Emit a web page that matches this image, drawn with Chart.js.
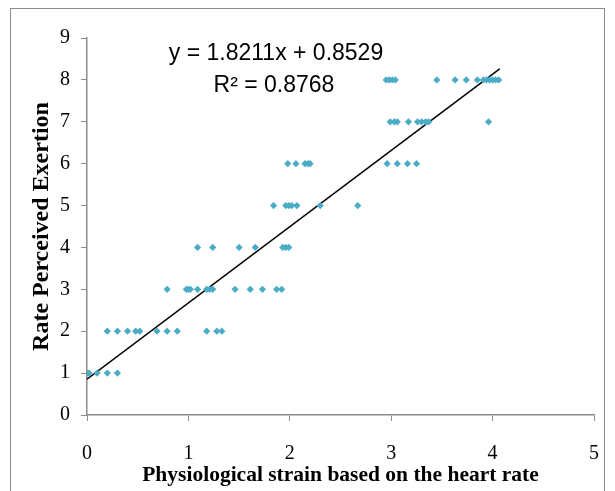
<!DOCTYPE html>
<html>
<head>
<meta charset="utf-8">
<script src="https://cdn.jsdelivr.net/npm/chart.js@4.4.1/dist/chart.umd.min.js"></script>
<style>
  html, body { margin: 0; padding: 0; background: #fff; }
  #wrap { position: relative; width: 615px; height: 491px; overflow: hidden; }
  #frame { position: absolute; left: 10px; top: 8px; width: 595px; height: 500px; border: 1.5px solid #8c8c8c; box-sizing: border-box; }
  #chart { position: absolute; left: 0; top: 0; }
</style>
</head>
<body>
<div id="wrap">
  <div id="frame"></div>
  <canvas id="chart" width="615" height="491"></canvas>
</div>
<script>
// strain (x) and RPE (y)
const strain = [
  0, 0.02, 0.1, 0.2, 0.3,
  0.2, 0.3, 0.4, 0.48, 0.52, 0.69, 0.79, 0.89, 1.18, 1.28, 1.33,
  0.79, 0.98, 1.0, 1.02, 1.09, 1.18, 1.21, 1.24, 1.46, 1.61, 1.73, 1.87, 1.92,
  1.09, 1.24, 1.5, 1.66, 1.93, 1.96, 1.99,
  1.84, 1.96, 1.99, 2.02, 2.07, 2.3, 2.67,
  1.98, 2.06, 2.15, 2.18, 2.2, 2.96, 3.06, 3.16, 3.25,
  2.99, 3.03, 3.06, 3.17, 3.26, 3.3, 3.34, 3.37, 3.96,
  2.95, 2.98, 3.01, 3.04, 3.45, 3.63, 3.74, 3.85, 3.91, 3.94, 3.97, 4.0, 4.03, 4.06
];
const rpe = [
  1, 1, 1, 1, 1,
  2, 2, 2, 2, 2, 2, 2, 2, 2, 2, 2,
  3, 3, 3, 3, 3, 3, 3, 3, 3, 3, 3, 3, 3,
  4, 4, 4, 4, 4, 4, 4,
  5, 5, 5, 5, 5, 5, 5,
  6, 6, 6, 6, 6, 6, 6, 6, 6,
  7, 7, 7, 7, 7, 7, 7, 7, 7,
  8, 8, 8, 8, 8, 8, 8, 8, 8, 8, 8, 8, 8, 8
];
const xTicks = [0, 1, 2, 3, 4, 5];
const yTicks = [0, 1, 2, 3, 4, 5, 6, 7, 8, 9];

// linear trendline from the printed equation
const slope = 1.8211;
const intercept = 0.8529;
const trendX = [0, 4.07];

const points = strain.map((x, i) => ({ x: x, y: rpe[i] }));
const trend = trendX.map(x => ({ x: x, y: slope * x + intercept }));

const axisGray = '#8c8c8c';
const serif = '"Liberation Serif", "Times New Roman", serif';

const eqLabel = {
  id: 'eqLabel',
  afterDraw(c) {
    const ctx = c.ctx;
    ctx.save();
    ctx.fillStyle = '#000';
    ctx.font = '23px "Liberation Sans", Arial, sans-serif';
    ctx.textAlign = 'center';
    ctx.textBaseline = 'alphabetic';
    ctx.fillText('y = 1.8211x + 0.8529', 276, 60);
    ctx.fillText('R\u00B2 = 0.8768', 274, 92);
    ctx.restore();
  }
};

new Chart(document.getElementById('chart'), {
  type: 'scatter',
  data: {
    datasets: [
      {
        data: points,
        pointStyle: 'rectRot',
        pointRadius: 3.6,
        backgroundColor: '#4bacc6',
        borderColor: '#4bacc6',
        borderWidth: 0
      },
      {
        type: 'line',
        data: trend,
        borderColor: '#000',
        borderWidth: 1.5,
        pointRadius: 0,
        fill: false
      }
    ]
  },
  options: {
    responsive: false,
    animation: false,
    layout: { padding: { left: 10, right: 21, top: 38, bottom: 3 } },
    plugins: { legend: { display: false }, tooltip: { enabled: false } },
    scales: {
      x: {
        type: 'linear',
        min: 0,
        max: 5,
        afterBuildTicks: s => { s.ticks = xTicks.map(v => ({ value: v })); },
        afterFit: s => { s.height = 73; s.paddingLeft = 0; s.paddingRight = 0; },
        grid: { drawOnChartArea: false, color: axisGray, tickLength: 6 },
        border: { color: axisGray, width: 1.5 },
        ticks: { color: '#000', font: { family: serif, size: 20 }, padding: 21 },
        title: {
          display: true,
          text: 'Physiological strain based on the heart rate',
          color: '#000',
          font: { family: serif, size: 21.5, weight: 'bold' },
          padding: { top: 0, bottom: 0 }
        }
      },
      y: {
        min: 0,
        max: 9,
        afterBuildTicks: s => { s.ticks = yTicks.map(v => ({ value: v })); },
        afterFit: s => { s.width = 77; s.paddingTop = 0; s.paddingBottom = 0; },
        grid: { drawOnChartArea: false, color: axisGray, tickLength: 6 },
        border: { color: axisGray, width: 1.5 },
        ticks: { color: '#000', font: { family: serif, size: 20 }, padding: 11 },
        title: {
          display: true,
          text: 'Rate Perceived Exertion',
          color: '#000',
          font: { family: serif, size: 24, weight: 'bold' },
          padding: { top: 17, bottom: 0 }
        }
      }
    }
  },
  plugins: [eqLabel]
});
</script>
</body>
</html>
